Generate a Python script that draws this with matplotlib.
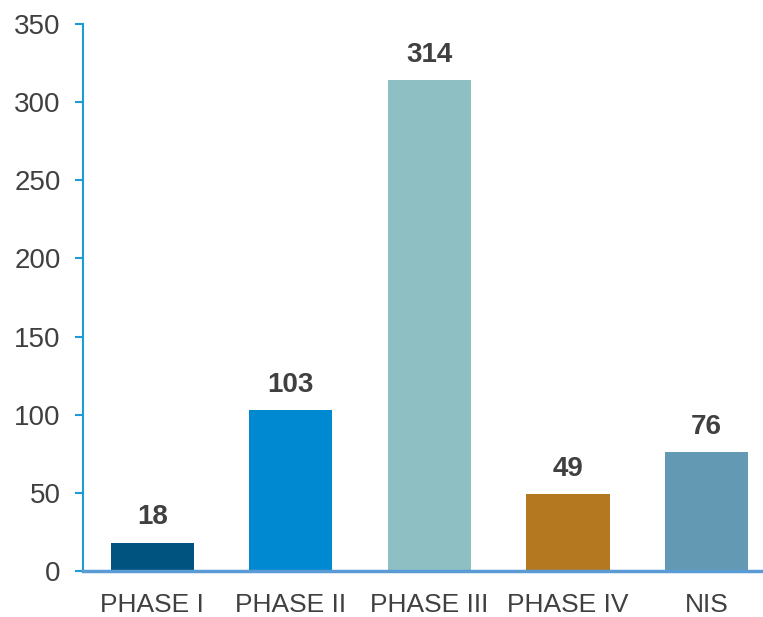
import matplotlib.pyplot as plt

categories = ["PHASE I", "PHASE II", "PHASE III", "PHASE IV", "NIS"]
values = [18, 103, 314, 49, 76]
colors = ["#00527F", "#0088D1", "#8DBFC3", "#B47820", "#6499B3"]
yticks = [0, 50, 100, 150, 200, 250, 300, 350]

plt.rcParams["font.family"] = ["Liberation Sans", "DejaVu Sans"]

fig = plt.figure(figsize=(7.63, 6.17), dpi=100)
ax = fig.add_axes([83 / 763, 46 / 617, 679 / 763, 547 / 617])

x = range(len(categories))
bars = ax.bar(x, values, width=0.6, color=colors, zorder=2)

for b, v in zip(bars, values):
    ax.annotate(str(v), (b.get_x() + b.get_width() / 2, v),
                xytext=(0, 9), textcoords="offset points",
                ha="center", va="bottom", fontsize=20, fontweight="bold",
                color="#404040")

ax.set_xlim(-0.5, 4.4)
ax.set_ylim(0, 350)
ax.set_yticks(yticks)
ax.set_xticks(list(x))
ax.set_xticklabels(categories)

for s in ["top", "right"]:
    ax.spines[s].set_visible(False)
ax.spines["left"].set_color("#1E9AD6")
ax.spines["left"].set_linewidth(1.5)
ax.spines["bottom"].set_color("#5B9BD5")
ax.spines["bottom"].set_linewidth(2.5)
ax.spines["bottom"].set_zorder(3)

ax.tick_params(axis="y", direction="out", length=6, width=1.5, color="#1E9AD6",
               labelsize=20, labelcolor="#404040", pad=10)
ax.tick_params(axis="x", length=0, labelsize=19, labelcolor="#404040", pad=16)

fig.savefig("out.png", dpi=100)
